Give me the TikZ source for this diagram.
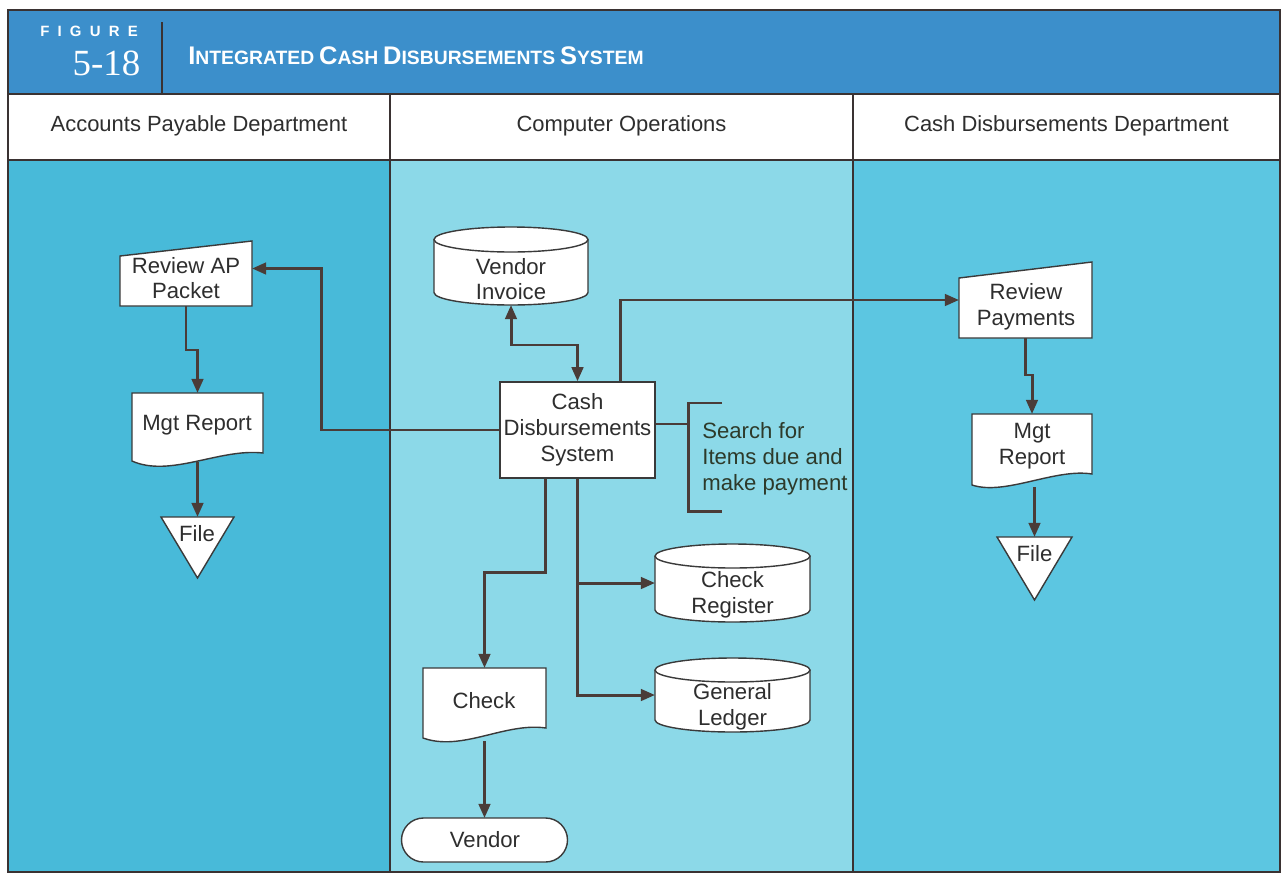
\documentclass[tikz,border=0pt]{standalone}
\usepackage{fontspec}
\setmainfont{Liberation Sans}
\newfontfamily\serifnum{Liberation Serif}
\newfontfamily\figfont[LetterSpace=55]{Liberation Sans}
\usetikzlibrary{arrows.meta,calc}
\newdimen\pxu \pxu=0.02cm
\definecolor{hdrblue}{HTML}{3C8FCB}
\definecolor{laneL}{HTML}{48BAD9}
\definecolor{laneM}{HTML}{8CD9E8}
\definecolor{laneR}{HTML}{5CC6E1}
\definecolor{frame}{HTML}{3A3232}
\definecolor{flowc}{HTML}{4A3C38}
\definecolor{shpline}{HTML}{3A3A3A}
\definecolor{txtc}{HTML}{2E2E2E}
\definecolor{anntxt}{HTML}{2D3A2A}
\newcommand\scw[2]{{\fontsize{14.5}{15}\selectfont #1}{\fontsize{11}{12}\selectfont #2}}
\newcommand\drawcyl[5]{%
  \fill[white] ({#1-#3},{#2+#4}) rectangle ({#1+#3},{#5-#4});
  \fill[white] (#1,{#5-#4}) ellipse [x radius=#3\pxu, y radius=#4\pxu];
  \draw[shpline, line width=0.8pt] ({#1-#3},{#2+#4}) -- ({#1-#3},{#5-#4})
     arc[start angle=180, end angle=360, x radius=#3\pxu, y radius=#4\pxu] -- ({#1+#3},{#2+#4});
  \draw[shpline, line width=0.8pt, fill=white] (#1,{#2+#4}) ellipse [x radius=#3\pxu, y radius=#4\pxu];
}
\begin{document}
\begin{tikzpicture}[x=0.02cm, y=-0.02cm,
  bnd/.style={inner sep=0pt, outer sep=0pt, draw=none, rectangle},
  shp/.style={draw=shpline, fill=white, line width=0.8pt},
  txt/.style={font=\fontsize{12.6}{14.7}\selectfont, text=txtc, align=center, inner sep=0pt},
  lanehdr/.style={font=\fontsize{12.5}{13}\selectfont, text=txtc, inner sep=0pt},
  flow/.style={draw=flowc, line width=1.7pt, -{Triangle[length=8pt, width=6.5pt]}},
  flowline/.style={draw=flowc, line width=1.7pt},
  dflow/.style={draw=flowc, line width=1.7pt, {Triangle[length=8pt, width=6.5pt]}-{Triangle[length=8pt, width=6.5pt]}},
  divline/.style={draw=frame, line width=1.1pt}
]
\useasboundingbox (0,0) rectangle (1284,872);
\fill[white] (0,0) rectangle (1284,872);

% lanes
\fill[laneL] (8,160) rectangle (390,872);
\fill[laneM] (390,160) rectangle (853,872);
\fill[laneR] (853,160) rectangle (1280,872);
\fill[white] (8,95) rectangle (1280,160);
% header band
\fill[hdrblue] (8,10) rectangle (1280,94);
\draw[divline] (162,22) -- (162,94);
\draw[divline] (8,10) rectangle (1280,872);
\draw[divline] (8,94) -- (1280,94);
\draw[divline] (8,160) -- (1280,160);
\draw[divline] (390,95) -- (390,872);
\draw[divline] (853,95) -- (853,872);

% header texts
\node[text=white, font=\figfont\bfseries\fontsize{8.5}{9}\selectfont, inner sep=0pt] (figlbl) at (89,31) {FIGURE};
\node[text=white, font=\serifnum\fontsize{21}{22}\selectfont, inner sep=0pt] (fignum) at (106.5,63) {5-18};
\node[text=white, font=\bfseries, inner sep=0pt, anchor=west] (title) at (188,56)
  {\scw{I}{NTEGRATED} \scw{C}{ASH} \scw{D}{ISBURSEMENTS} \scw{S}{YSTEM}};
\node[lanehdr] (h1) at (199,126) {Accounts Payable Department};
\node[lanehdr] (h2) at (621.5,126) {Computer Operations};
\node[lanehdr] (h3) at (1066.5,126) {Cash Disbursements Department};

% ---------- bounds nodes ----------
\node[bnd, minimum width=132\pxu, minimum height=65\pxu] (rap) at (186,273.5) {};
\node[bnd, minimum width=131\pxu, minimum height=75\pxu] (mgl) at (197.5,430.5) {};
\node[bnd, minimum width=73\pxu, minimum height=61\pxu] (fl) at (197.5,547.5) {};
\node[bnd, minimum width=154\pxu, minimum height=78\pxu] (vi) at (511,266) {};
\node[bnd, minimum width=155\pxu, minimum height=78\pxu] (cr) at (732.5,583) {};
\node[bnd, minimum width=155\pxu, minimum height=74\pxu] (gl) at (732.5,695) {};
\node[bnd, minimum width=123\pxu, minimum height=77\pxu] (chk) at (484.5,706.5) {};
\node[bnd, minimum width=133\pxu, minimum height=76\pxu] (rp) at (1025.5,300) {};
\node[bnd, minimum width=120\pxu, minimum height=76\pxu] (mgr) at (1032,452) {};
\node[bnd, minimum width=75\pxu, minimum height=63\pxu] (fr) at (1034.5,568.5) {};

% ---------- shapes ----------
\draw[shp] (120,256) -- (252,241) -- (252,306) -- (120,306) -- cycle;
\draw[shp] (132,393) -- (263,393) -- (263,453) .. controls (220,448) and (170,478) .. (132,461) -- cycle;
\draw[shp] (161,517) -- (234,517) -- (197.5,578) -- cycle;
\drawcyl{511}{227}{77}{12.5}{305}
\node[shp, txt, minimum width=155\pxu, minimum height=96\pxu] (cds) at (577.5,430)
  {Cash\\Disbursements\\System};
\drawcyl{732.5}{544}{77.5}{12}{622}
\drawcyl{732.5}{658}{77.5}{12}{732}
\draw[shp] (423,668) -- (546,668) -- (546,728) .. controls (505,722) and (462,752) .. (423,738) -- cycle;
\node[shp, bnd, draw=shpline, rounded corners=22\pxu, minimum width=166\pxu, minimum height=44\pxu] (ven) at (484.5,840) {};
\draw[shp] (959,278) -- (1092,262) -- (1092,338) -- (959,338) -- cycle;
\draw[shp] (972,414) -- (1092,414) -- (1092,474) .. controls (1055,468) and (1005,496) .. (972,485) -- cycle;
\draw[shp] (997,537) -- (1072,537) -- (1034.5,600) -- cycle;

% ---------- texts ----------
\node[txt] (rap-t) at (186,278) {Review AP\\Packet};
\node[txt] (mgl-t) at (197,425) {Mgt Report};
\node[txt] (fl-t) at (197,534) {File};
\node[txt] (vi-t) at (511,279) {Vendor\\Invoice};
\node[txt] (cr-t) at (732.5,595) {Check\\Register};
\node[txt] (gl-t) at (732.5,707) {General\\Ledger};
\node[txt] (chk-t) at (484,701) {Check};
\node[txt] (ven-t) at (485,840) {Vendor};
\node[txt] (rp-t) at (1026,307) {Review\\Payments};
\node[txt] (mgr-t) at (1032,446) {Mgt\\Report};
\node[txt] (fr-t) at (1034.5,554) {File};
\node[txt, align=left, anchor=west, text=anntxt] (ann) at (702,459)
  {Search for\\Items due and\\make payment};

% ---------- connectors ----------
\draw[flow] (rap.south) -- ++(0,44) -| (mgl.north);
\draw[flow] ($(mgl.south)+(0,-6)$) -- (fl.north);
\draw[flow] (cds.west) -- ++(-178,0) |- ($(rap.east)+(0,-5)$);
\draw[dflow] (vi.south) -- ++(0,40) -| (cds.north);
\draw[flow] ($(cds.north)+(42.5,0)$) |- (rp.west);
\draw[flow] ($(cds.south)+(-32.5,0)$) -- ++(0,94) -| (chk.north);
\draw[flow] (cds.south) |- (cr.west);
\draw[flow] (cds.south) |- (gl.west);
\draw[flow] ($(chk.south)+(0,-4)$) -- (ven.north);
\draw[flow] (rp.south) -- ++(0,37) -| (mgr.north);
\draw[flow] ($(mgr.south -| fr.north)+(0,-3)$) -- (fr.north);
% annotation bracket
\coordinate (bt) at (722,403);
\coordinate (bb) at (722,511);
\draw[flowline] ($(cds.east)+(0,-6)$) -- (688,424);
\draw[flowline] (bt) -- (688,403) -- (688,511) -- (bb);
\end{tikzpicture}
\end{document}
